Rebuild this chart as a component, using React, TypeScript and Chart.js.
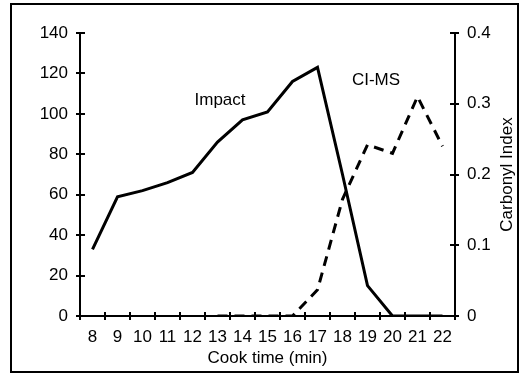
import React, { useEffect, useRef } from "react";
import { Chart, registerables } from "chart.js";

Chart.register(...registerables);

const cookTimes = ["8", "9", "10", "11", "12", "13", "14", "15", "16", "17", "18", "19", "20", "21", "22"];
const impactValues = [33, 59, 62, 66, 71, 86, 97, 101, 116, 123, 70, 15, 0, 0, 0];
const cimsValues: (number | null)[] = [null, null, null, null, null, 0, 0, 0, 0, 0.037, 0.165, 0.242, 0.23, 0.31, 0.24];
const leftTicks = [0, 20, 40, 60, 80, 100, 120, 140];
const rightTicks = [0, 0.1, 0.2, 0.3, 0.4];

const FONT = "'Liberation Sans', Arial, sans-serif";

const decorPlugin = {
  id: "decor",
  beforeDraw(chart: any) {
    const { ctx } = chart;
    ctx.save();
    ctx.fillStyle = "#ffffff";
    ctx.fillRect(0, 0, chart.width, chart.height);
    ctx.restore();
  },
  afterDraw(chart: any) {
    const { ctx } = chart;
    const x = chart.scales.x;
    const y = chart.scales.y;
    const y2 = chart.scales.y2;
    ctx.save();
    ctx.strokeStyle = "#000";
    ctx.lineWidth = 2;
    // left ticks
    leftTicks.forEach((v) => {
      const py = Math.round(y.getPixelForValue(v));
      ctx.beginPath();
      ctx.moveTo(y.right - 4, py);
      ctx.lineTo(y.right + 5, py);
      ctx.stroke();
    });
    rightTicks.forEach((v) => {
      const py = Math.round(y2.getPixelForValue(v));
      ctx.beginPath();
      ctx.moveTo(y2.left - 5, py);
      ctx.lineTo(y2.left + 4, py);
      ctx.stroke();
    });
    for (let i = 0; i <= cookTimes.length; i++) {
      const px = Math.round(x.getPixelForValue(i - 0.5));
      ctx.beginPath();
      ctx.moveTo(px, x.top - 4);
      ctx.lineTo(px, x.top + 4);
      ctx.stroke();
    }
    // annotations
    ctx.fillStyle = "#000";
    ctx.font = "17px " + FONT;
    ctx.textAlign = "center";
    ctx.textBaseline = "alphabetic";
    ctx.fillText("Impact", x.getPixelForValue(5.1), y.getPixelForValue(104.5));
    ctx.fillText("CI-MS", x.getPixelForValue(11.34), y.getPixelForValue(114.4));
    // right axis title, reading upward
    ctx.save();
    ctx.translate(512, (y2.top + y2.bottom) / 2);
    ctx.rotate(-Math.PI / 2);
    ctx.textAlign = "center";
    ctx.textBaseline = "alphabetic";
    ctx.fillText("Carbonyl Index", 0, 0);
    ctx.restore();
    // outer frame
    ctx.lineWidth = 2;
    ctx.strokeRect(11, 4, 507, 368);
    ctx.restore();
  },
};

export default function App() {
  const ref = useRef<HTMLCanvasElement>(null);
  useEffect(() => {
    if (!ref.current) return;
    const chart = new Chart(ref.current, {
      type: "line",
      data: {
        labels: cookTimes,
        datasets: [
          {
            label: "Impact",
            data: impactValues,
            yAxisID: "y",
            borderColor: "#000",
            borderWidth: 3,
            pointRadius: 0,
            tension: 0,
            fill: false,
          },
          {
            label: "CI-MS",
            data: cimsValues,
            yAxisID: "y2",
            borderColor: "#000",
            borderWidth: 3,
            borderDash: [10, 7],
            pointRadius: 0,
            tension: 0,
            fill: false,
            spanGaps: false,
          },
        ],
      },
      options: {
        responsive: false,
        animation: false,
        layout: { padding: { top: 33, left: 0, right: 0, bottom: 0 } },
        plugins: { legend: { display: false }, tooltip: { enabled: false }, title: { display: false } },
        scales: {
          x: {
            type: "category",
            offset: true,
            grid: { display: false, drawTicks: false, offset: true },
            border: { display: true, color: "#000", width: 2 },
            ticks: { color: "#000", font: { family: FONT, size: 17 }, padding: 11, maxRotation: 0, autoSkip: false },
            title: {
              display: true,
              text: "Cook time (min)",
              color: "#000",
              font: { family: FONT, size: 17 },
              padding: { top: 0, bottom: 8 },
            },
            afterFit: (s: any) => {
              s.height = 61;
            },
          },
          y: {
            position: "left",
            min: 0,
            max: 140,
            grid: { display: false, drawTicks: false },
            border: { display: true, color: "#000", width: 2 },
            ticks: { stepSize: 20, color: "#000", font: { family: FONT, size: 17 }, padding: 12 },
            afterFit: (s: any) => {
              s.width = 80;
            },
          },
          y2: {
            position: "right",
            min: 0,
            max: 0.4,
            grid: { display: false, drawTicks: false },
            border: { display: true, color: "#000", width: 2 },
            ticks: { stepSize: 0.1, color: "#000", font: { family: FONT, size: 17 }, padding: 12 },
            afterFit: (s: any) => {
              s.width = 68;
            },
          },
        },
      },
      plugins: [decorPlugin],
    });
    return () => chart.destroy();
  }, []);
  return (
    <div style={{ position: "fixed", left: 0, top: 0, width: 523, height: 377 }}>
      <canvas ref={ref} width={523} height={377} style={{ display: "block" }} />
    </div>
  );
}
